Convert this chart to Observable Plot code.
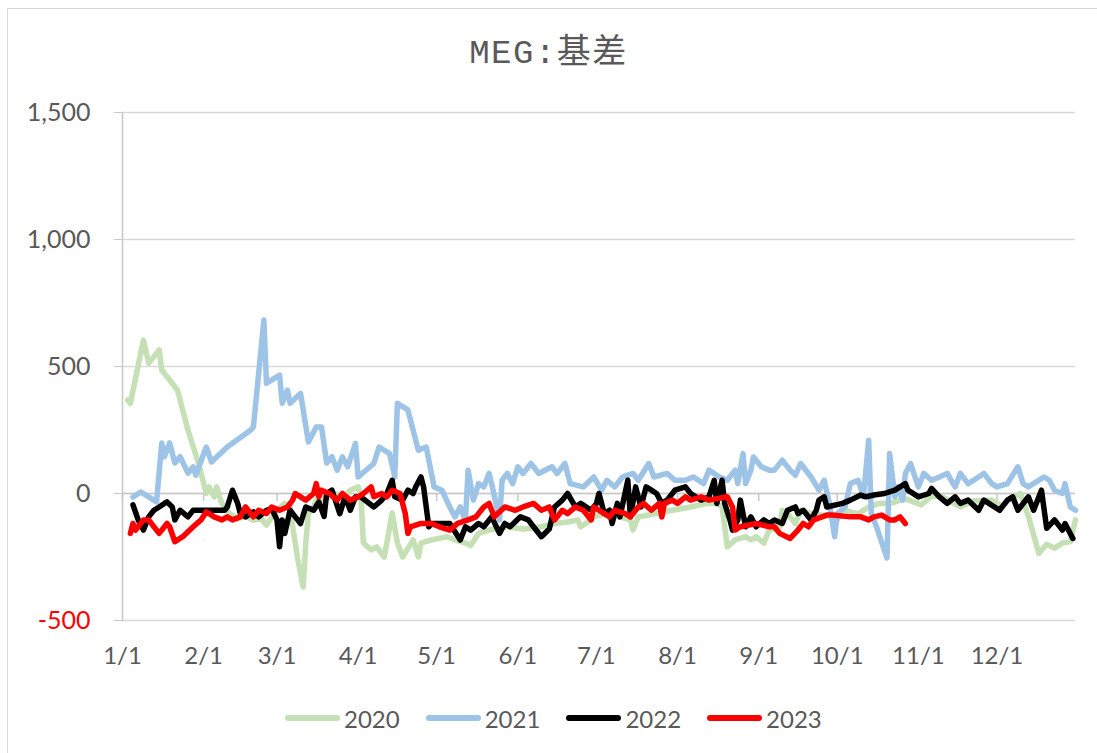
<!DOCTYPE html>
<html><head><meta charset="utf-8">
<script src="https://cdn.jsdelivr.net/npm/d3@7"></script>
<script src="https://cdn.jsdelivr.net/npm/@observablehq/plot@0.6"></script>
<style>
body{margin:0;background:#fff;width:1097px;height:753px;overflow:hidden;position:relative;}
#frame{position:absolute;left:7px;top:8px;width:1100px;height:760px;border:1px solid #d9d9d9;box-sizing:border-box;}
#title{position:absolute;left:0;top:33px;width:1097px;text-align:center;font-size:34px;line-height:42px;font-family:"Liberation Mono","Noto Sans CJK SC";color:#595959;letter-spacing:1.5px;}
#chart{position:absolute;left:0;top:80px;}
#legend{position:absolute;left:285px;top:703px;height:30px;display:flex;align-items:center;font-family:Lato;font-size:24px;color:#595959;}
.item{display:flex;align-items:center;margin-right:26px;}
.sw{width:55px;height:6px;border-radius:3px;margin-right:4px;}
</style></head>
<body>
<div id="frame"></div>
<div id="title">MEG:基差</div>
<div id="chart"></div>
<div id="legend"></div>
<script>
const seriesNames = ["2020", "2021", "2022", "2023"];
const seriesColors = ["#c5e0b4", "#9dc3e6", "#000000", "#ff0000"];
const monthLabels = ["1/1","2/1","3/1","4/1","5/1","6/1","7/1","8/1","9/1","10/1","11/1","12/1"];
const yTickValues = [-500, 0, 500, 1000, 1500];

const dates2020 = ["1/3","1/4","1/9","1/11","1/15","1/16","1/19","1/22","1/26","1/30","2/2","2/3","2/5","2/6","2/7","2/8","2/11","2/14","2/17","2/20","2/23","2/25","3/1","3/4","3/6","3/7","3/9","3/11","3/12","3/13","3/15","3/17","3/19","3/23","3/27","3/29","4/1","4/2","4/3","4/6","4/8","4/11","4/14","4/16","4/18","4/22","4/24","4/25","4/29","5/5","5/8","5/12","5/14","5/17","5/21","5/28","6/3","6/10","6/15","6/20","6/24","6/25","6/28","6/30","7/5","7/10","7/14","7/15","7/17","7/24","7/30","8/6","8/12","8/16","8/18","8/20","8/23","8/27","8/29","8/31","9/3","9/5","9/9","9/10","9/12","9/15","9/17","9/21","9/30","10/1","10/3","10/9","10/13","10/17","10/22","10/27","11/2","11/6","11/10","11/17","11/22","11/29","12/3","12/6","12/10","12/13","12/17","12/20","12/23","12/26","12/29","12/31"];
const values2020 = [368,355,604,513,565,486,447,407,250,120,0,26,-13,26,-13,-39,-80,-100,-90,-105,-100,-124,-66,-39,-53,-131,-262,-368,-195,-79,-53,0,-26,0,-13,13,26,0,-195,-222,-210,-250,-77,-195,-250,-183,-250,-195,-183,-170,-183,-195,-205,-157,-144,-131,-140,-131,-118,-112,-104,-131,-110,-92,-79,-92,-104,-144,-92,-79,-66,-53,-39,-39,-53,-210,-183,-170,-183,-170,-195,-144,-131,-66,-79,-118,-66,-79,-92,-104,-65,-79,-53,-39,-37,-20,-45,-10,-12,-53,-30,-26,-50,-20,0,-90,-236,-200,-215,-195,-190,-104];

const dates2021 = ["1/5","1/8","1/14","1/16","1/17","1/19","1/21","1/23","1/26","1/28","1/29","2/2","2/4","2/10","2/19","2/20","2/24","2/25","3/2","3/3","3/5","3/6","3/10","3/13","3/16","3/18","3/20","3/22","3/24","3/26","3/28","3/31","4/1","4/7","4/9","4/13","4/15","4/16","4/20","4/24","4/27","4/29","4/30","5/3","5/6","5/8","5/10","5/12","5/13","5/15","5/17","5/19","5/21","5/22","5/25","5/26","5/28","5/30","6/1","6/3","6/6","6/9","6/14","6/16","6/19","6/21","6/26","6/30","7/3","7/5","7/8","7/11","7/15","7/17","7/21","7/23","7/28","7/31","8/4","8/7","8/11","8/13","8/17","8/20","8/23","8/24","8/26","8/27","8/29","8/30","9/2","9/5","9/7","9/10","9/13","9/15","9/17","9/21","9/24","9/26","9/28","9/30","10/1","10/4","10/6","10/9","10/11","10/13","10/14","10/16","10/20","10/21","10/23","10/24","10/26","10/27","10/29","11/1","11/3","11/6","11/9","11/12","11/15","11/17","11/20","11/24","11/26","11/29","12/1","12/5","12/9","12/11","12/13","12/17","12/19","12/21","12/23","12/26","12/27","12/29","12/31"];
const values2021 = [-14,6,-33,199,145,199,120,145,80,105,72,183,124,183,250,262,683,434,466,355,407,355,394,203,262,262,120,145,92,144,105,197,65,118,183,157,65,355,329,170,183,79,26,13,-53,-92,-53,-104,92,-26,39,26,79,39,-104,52,79,39,105,79,118,79,105,79,118,39,26,65,13,52,26,65,79,52,118,65,79,52,52,65,39,92,65,52,92,39,157,39,92,144,105,92,92,131,92,72,118,65,13,52,-39,-170,-79,-53,39,52,-13,210,-79,-131,-254,157,-13,26,-26,79,118,26,79,52,65,79,26,79,39,65,79,39,26,39,105,39,26,52,65,52,13,0,39,-53,-66];

const dates2022 = ["1/5","1/7","1/9","1/11","1/13","1/15","1/17","1/18","1/20","1/21","1/23","1/26","1/28","1/31","2/4","2/9","2/10","2/12","2/14","2/15","2/17","2/20","2/22","2/25","2/27","3/1","3/2","3/3","3/4","3/6","3/8","3/10","3/12","3/15","3/17","3/19","3/20","3/22","3/25","3/27","3/29","3/31","4/2","4/7","4/10","4/12","4/14","4/15","4/18","4/20","4/22","4/23","4/25","4/26","4/28","4/29","5/6","5/10","5/12","5/14","5/17","5/19","5/22","5/25","5/27","5/29","6/2","6/5","6/7","6/10","6/13","6/15","6/18","6/20","6/23","6/25","6/29","7/1","7/2","7/4","7/6","7/7","7/9","7/10","7/13","7/14","7/16","7/18","7/20","7/22","7/24","7/26","7/28","7/31","8/4","8/6","8/8","8/10","8/13","8/15","8/16","8/18","8/19","8/21","8/22","8/24","8/25","8/27","8/29","8/31","9/3","9/5","9/7","9/10","9/12","9/15","9/16","9/18","9/21","9/23","9/24","9/26","9/27","10/3","10/6","10/10","10/12","10/15","10/19","10/23","10/27","10/28","11/1","11/5","11/6","11/9","11/12","11/15","11/17","11/20","11/24","11/26","12/2","12/5","12/7","12/9","12/13","12/15","12/18","12/20","12/23","12/26","12/27","12/30"];
const values2022 = [-45,-104,-144,-92,-66,-53,-39,-33,-53,-104,-66,-92,-66,-66,-66,-66,-53,13,-39,-79,-92,-72,-92,-66,-59,-104,-210,-104,-157,-66,-92,-118,-53,-66,-33,-90,0,13,-79,-13,-66,-13,-13,-53,-26,0,52,-13,-26,13,0,26,65,26,-131,-118,-118,-183,-131,-144,-118,-131,-92,-157,-118,-131,-92,-104,-131,-170,-140,-53,-26,0,-53,-39,-66,-40,0,-79,-66,-118,-39,-92,52,-92,26,-53,26,13,0,-39,-26,13,26,0,-13,-26,-13,52,-39,52,-39,-104,-144,-104,-26,-131,-92,-131,-104,-118,-104,-118,-66,-53,-79,-66,-104,-66,-26,-13,-53,-39,-26,-6,-13,-6,0,13,39,13,-13,0,20,-13,-39,-13,-39,-26,-66,-26,-66,-26,-13,-66,-13,-66,13,-137,-104,-144,-118,-177];

const dates2023 = ["1/4","1/5","1/6","1/9","1/11","1/13","1/15","1/18","1/19","1/21","1/24","1/28","1/31","2/2","2/5","2/8","2/10","2/12","2/15","2/17","2/20","2/22","2/25","2/27","3/2","3/5","3/7","3/8","3/10","3/12","3/15","3/16","3/17","3/18","3/21","3/24","3/26","3/29","4/1","4/3","4/6","4/7","4/10","4/12","4/14","4/17","4/19","4/20","4/21","4/25","4/29","5/2","5/6","5/9","5/13","5/16","5/19","5/21","5/23","5/27","5/31","6/3","6/7","6/10","6/13","6/15","6/18","6/20","6/23","6/26","6/29","6/30","7/6","7/8","7/12","7/14","7/17","7/19","7/22","7/25","7/26","7/27","7/30","8/1","8/4","8/6","8/10","8/13","8/20","8/22","8/23","8/25","8/31","9/5","9/7","9/9","9/13","9/16","9/18","9/20","9/22","9/27","9/29","10/6","10/10","10/13","10/15","10/18","10/21","10/23","10/25","10/27"];
const values2023 = [-157,-118,-144,-104,-104,-131,-157,-118,-131,-190,-170,-131,-104,-72,-92,-104,-92,-104,-92,-53,-92,-66,-79,-53,-66,-53,-26,0,-13,-26,0,39,-13,13,0,-26,0,-26,-13,0,26,-13,0,-13,13,0,-79,-157,-131,-118,-118,-131,-144,-118,-104,-92,-53,-39,-92,-53,-66,-53,-39,-66,-53,-104,-66,-79,-53,-66,-104,-53,-92,-66,-79,-92,-53,-39,-66,-39,-92,-39,-26,-39,-13,-26,-13,-26,-13,-53,-144,-131,-118,-131,-131,-157,-177,-144,-118,-131,-104,-85,-85,-92,-92,-104,-92,-85,-104,-104,-92,-118];

const parse = s => { const [m, d] = s.split("/").map(Number); return new Date(2022, m - 1, d); };
const allDates = [dates2020, dates2021, dates2022, dates2023];
const allValues = [values2020, values2021, values2022, values2023];
const rows = seriesNames.flatMap((name, k) =>
  allDates[k].map((d, i) => ({year: name, date: parse(d), value: allValues[k][i]})));
const monthTicks = monthLabels.map(parse);

const chart = Plot.plot({
  width: 1097, height: 600,
  marginLeft: 122, marginRight: 22, marginTop: 32, marginBottom: 60,
  style: {fontFamily: "Lato", background: "transparent"},
  x: {type: "time", domain: [new Date(2022, 0, 1), new Date(2022, 11, 31)]},
  y: {domain: [-500, 1500]},
  color: {domain: seriesNames, range: seriesColors},
  marks: [
    Plot.gridY(yTickValues, {stroke: "#d9d9d9", strokeOpacity: 1, strokeWidth: 1.5}),
    Plot.ruleY([0], {stroke: "#c8c8c8", strokeWidth: 1.5}),
    Plot.ruleX(monthTicks, {x: d => d, y1: 0, y2: 0, insetBottom: -8, stroke: "#c8c8c8", strokeWidth: 1.5}),
    Plot.frame({anchor: "left", stroke: "#c8c8c8", strokeWidth: 1.5}),
    Plot.axisY(yTickValues, {tickSize: 8, tickPadding: 24, fontSize: 25, fill: "#595959", stroke: "#c8c8c8",
      tickFormat: d => d.toLocaleString("en-US"), label: null}),
    Plot.axisX(monthTicks, {tickSize: 0, tickPadding: 26, fontSize: 24, fill: "#595959",
      tickFormat: (d, i) => monthLabels[i], label: null}),
    Plot.line(rows, {x: "date", y: "value", z: "year", stroke: "year", strokeWidth: 5.5,
      strokeLinejoin: "round", strokeLinecap: "round"})
  ]
});
document.getElementById("chart").appendChild(chart);
d3.select(chart).selectAll("text").filter(function(){ return this.textContent === "-500"; }).attr("fill", "#ff0000");

const legend = document.getElementById("legend");
seriesNames.forEach((n, i) => {
  const it = document.createElement("div"); it.className = "item";
  const sw = document.createElement("div"); sw.className = "sw"; sw.style.background = seriesColors[i];
  const tx = document.createElement("span"); tx.textContent = n;
  it.appendChild(sw); it.appendChild(tx); legend.appendChild(it);
});
</script>
</body></html>
